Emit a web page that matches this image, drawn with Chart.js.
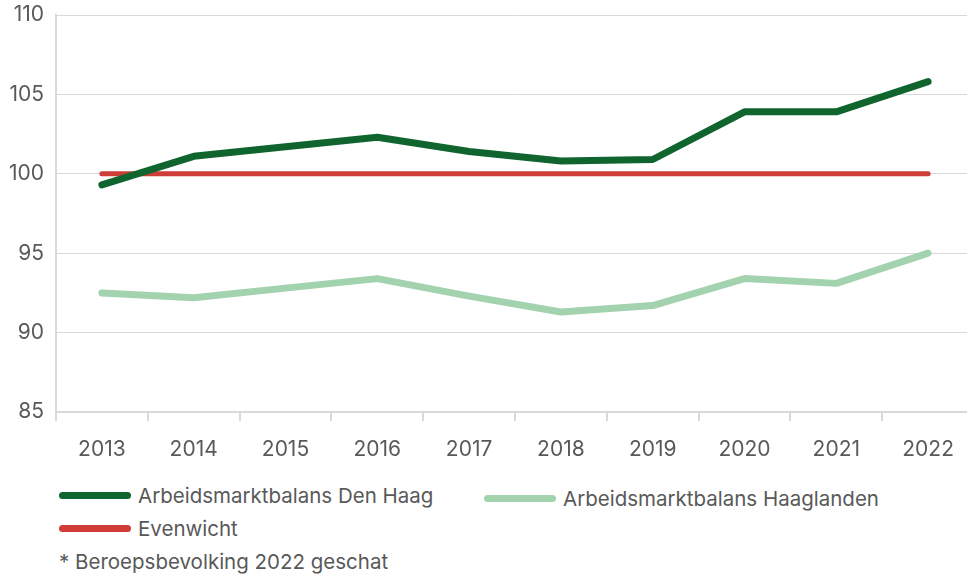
<!DOCTYPE html>
<html>
<head>
<meta charset="utf-8">
<script src="https://cdn.jsdelivr.net/npm/chart.js@4.4.1/dist/chart.umd.min.js"></script>
<style>
    body { margin: 0; background: #fff; overflow: hidden; font-family: Inter, "Noto Sans", sans-serif; color: #595959; }
    #wrap { position: relative; width: 967px; height: 576px; overflow: hidden; }
    #box { position: absolute; left: 0; top: 0; width: 976px; height: 472px; }
    .item { position: absolute; display: flex; align-items: center; font-size: 20.5px; white-space: nowrap; height: 24px; }
    .sw { width: 72px; height: 7px; border-radius: 4px; margin-right: 7px; }
    #note { position: absolute; left: 59px; top: 550px; font-size: 20.5px; height: 24px; line-height: 24px; }
</style>
</head>
<body>
<div id="wrap">
    <div id="box"><canvas id="balansChart"></canvas></div>
    <div id="legend"></div>
    <div id="note">* Beroepsbevolking 2022 geschat</div>
</div>
<script>
// Data
const years = ['2013', '2014', '2015', '2016', '2017', '2018', '2019', '2020', '2021', '2022'];
const denHaag = [99.3, 101.1, 101.7, 102.3, 101.4, 100.8, 100.9, 103.9, 103.9, 105.8];
const haaglanden = [92.5, 92.2, 92.8, 93.4, 92.3, 91.3, 91.7, 93.4, 93.1, 95.0];
const evenwicht = [100, 100, 100, 100, 100, 100, 100, 100, 100, 100];
const yMin = 85;
const yMax = 110;
const yStep = 5;

const gridColor = '#d9d9d9';
const textColor = '#595959';

const ctx = document.getElementById('balansChart').getContext('2d');
const chart = new Chart(ctx, {
    type: 'line',
    data: {
        labels: years,
        datasets: [
            {
                label: 'Arbeidsmarktbalans Den Haag',
                data: denHaag,
                borderColor: '#10652e',
                borderWidth: 7
            },
            {
                label: 'Arbeidsmarktbalans Haaglanden',
                data: haaglanden,
                borderColor: '#a3d2ae',
                borderWidth: 7
            },
            {
                label: 'Evenwicht',
                data: evenwicht,
                borderColor: '#d03c37',
                borderWidth: 5
            }
        ]
    },
    options: {
        responsive: true,
        maintainAspectRatio: false,
        animation: false,
        datasets: {
            line: {
                pointRadius: 0,
                tension: 0,
                borderCapStyle: 'round',
                borderJoinStyle: 'round'
            }
        },
        layout: { padding: { top: 15, right: 2, bottom: 0, left: 0 } },
        plugins: {
            legend: { display: false },
            tooltip: { enabled: false }
        },
        scales: {
            x: {
                offset: true,
                grid: {
                    offset: true,
                    drawOnChartArea: false,
                    color: gridColor,
                    tickLength: 9,
                    lineWidth: 2
                },
                border: { color: gridColor, width: 2 },
                ticks: {
                    color: textColor,
                    font: { family: 'Inter', size: 21 },
                    padding: 16,
                    maxRotation: 0
                },
                afterFit: function(axis) { axis.height = 60; }
            },
            y: {
                min: yMin,
                max: yMax,
                grid: { color: gridColor, drawTicks: false },
                border: { color: gridColor, width: 2 },
                ticks: {
                    stepSize: yStep,
                    color: textColor,
                    font: { family: 'Inter', size: 21 },
                    padding: 12
                },
                afterFit: function(axis) {
                    axis.width = 56;
                    axis.paddingTop = 0;
                    axis.paddingBottom = 0;
                }
            }
        }
    }
});

// HTML legend built from the datasets
const legendSpots = [
    { left: 59, top: 483 },
    { left: 484, top: 486 },
    { left: 59, top: 516 }
];
const legend = document.getElementById('legend');
chart.data.datasets.forEach(function(ds, i) {
    const item = document.createElement('div');
    item.className = 'item';
    item.style.left = legendSpots[i].left + 'px';
    item.style.top = legendSpots[i].top + 'px';
    const sw = document.createElement('span');
    sw.className = 'sw';
    sw.style.background = ds.borderColor;
    const txt = document.createElement('span');
    txt.textContent = ds.label;
    item.appendChild(sw);
    item.appendChild(txt);
    legend.appendChild(item);
});
</script>
</body>
</html>
